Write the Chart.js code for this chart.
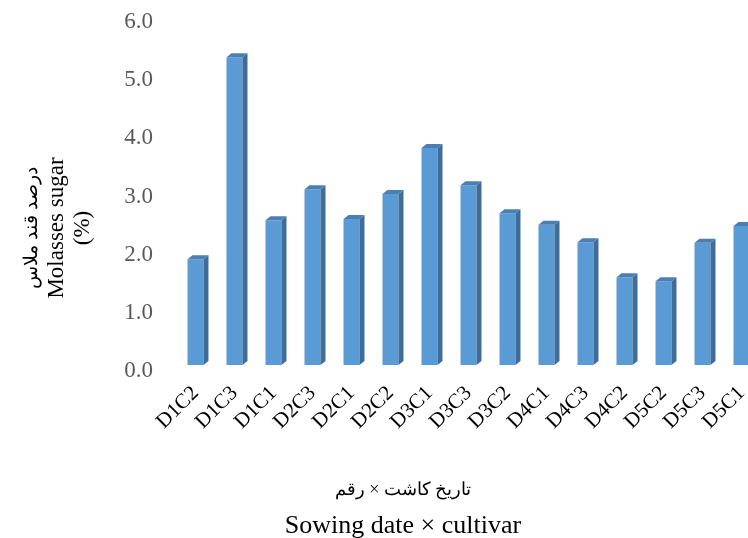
<!DOCTYPE html>
<html>
<head>
<meta charset="utf-8">
<script src="https://cdn.jsdelivr.net/npm/chart.js@4/dist/chart.umd.min.js"></script>
<style>
  html, body { margin: 0; padding: 0; background: #fff; overflow: hidden; width: 748px; height: 538px; }
  #wrap { position: relative; width: 770px; height: 538px; }
</style>
</head>
<body>
<div id="wrap"><canvas id="c" width="770" height="538"></canvas></div>
<script>
// Treatments: sowing date (D) × cultivar (C)
const categories = ['D1C2', 'D1C3', 'D1C1', 'D2C3', 'D2C1', 'D2C2', 'D3C1', 'D3C3',
                    'D3C2', 'D4C1', 'D4C3', 'D4C2', 'D5C2', 'D5C3', 'D5C1'];
// Molasses sugar (%)
const molassesSugar = [1.82, 5.29, 2.49, 3.02, 2.51, 2.94, 3.73, 3.09,
                       2.61, 2.41, 2.11, 1.51, 1.44, 2.10, 2.39];
const yTickValues = [0, 1, 2, 3, 4, 5, 6];
const yTitleLines = ['درصد قند ملاس', 'Molasses sugar', '(%)'];
const xTitleLines = ['تاریخ کاشت × رقم', 'Sowing date × cultivar'];

const SERIF = '"Liberation Serif", "Times New Roman", "DejaVu Serif", serif';

// Adds the top and right faces that give each column its 3-D look
const columnFaces = {
  id: 'columnFaces',
  afterDatasetsDraw(chart) {
    const ctx = chart.ctx;
    const dx = 5, dy = 4;
    chart.getDatasetMeta(0).data.forEach(bar => {
      const l = bar.x - bar.width / 2, r = bar.x + bar.width / 2;
      const top = bar.y, base = bar.base;
      ctx.save();
      ctx.fillStyle = '#3f6d98';
      ctx.beginPath();
      ctx.moveTo(r, top); ctx.lineTo(r + dx, top - dy);
      ctx.lineTo(r + dx, base - dy); ctx.lineTo(r, base);
      ctx.closePath(); ctx.fill();
      ctx.fillStyle = '#4a7fb6';
      ctx.beginPath();
      ctx.moveTo(l, top); ctx.lineTo(l + dx, top - dy);
      ctx.lineTo(r + dx, top - dy); ctx.lineTo(r, top);
      ctx.closePath(); ctx.fill();
      ctx.restore();
    });
  }
};

// Axis captions (Persian + English lines)
const axisCaptions = {
  id: 'axisCaptions',
  afterDraw(chart) {
    const ctx = chart.ctx;
    ctx.save();
    ctx.fillStyle = '#000';
    ctx.textAlign = 'center';
    ctx.textBaseline = 'middle';
    // vertical caption
    const yCols = [32, 57, 83];
    const ySizes = [19, 23, 23];
    yTitleLines.forEach((t, i) => {
      ctx.save();
      ctx.translate(yCols[i], 228);
      ctx.rotate(-Math.PI / 2);
      ctx.font = ySizes[i] + 'px ' + SERIF;
      ctx.direction = i === 0 ? 'rtl' : 'ltr';
      ctx.fillText(t, 0, 0);
      ctx.restore();
    });
    // horizontal caption
    const xRows = [490, 526];
    const xSizes = [18, 26];
    xTitleLines.forEach((t, i) => {
      ctx.font = xSizes[i] + 'px ' + SERIF;
      ctx.direction = i === 0 ? 'rtl' : 'ltr';
      ctx.fillText(t, 403, xRows[i]);
    });
    ctx.restore();
  }
};

new Chart(document.getElementById('c'), {
  type: 'bar',
  data: {
    labels: categories,
    datasets: [{
      data: molassesSugar,
      backgroundColor: '#5b9bd5',
      borderWidth: 0,
      barPercentage: 0.41,
      categoryPercentage: 1.0
    }]
  },
  options: {
    responsive: false,
    animation: false,
    devicePixelRatio: 1,
    layout: { padding: { top: 16, right: 9, left: 0, bottom: 0 } },
    plugins: { legend: { display: false }, tooltip: { enabled: false } },
    scales: {
      x: {
        grid: { display: false, drawTicks: false },
        border: { display: false },
        afterFit(scale) {
          scale.height = 173;
          scale.paddingLeft = 0;
          scale.paddingRight = 0;
        },
        ticks: {
          autoSkip: false,
          minRotation: 45,
          maxRotation: 45,
          padding: 16,
          color: '#000',
          font: { family: SERIF, size: 21 }
        }
      },
      y: {
        min: 0,
        max: 6,
        grid: { display: false, drawTicks: false },
        border: { display: false },
        afterFit(scale) {
          scale.width = 176;
          scale.paddingTop = 0;
          scale.paddingBottom = 0;
        },
        afterBuildTicks(scale) { scale.ticks = yTickValues.map(v => ({ value: v })); },
        ticks: {
          padding: 23,
          labelOffset: 6,
          color: '#595959',
          font: { family: SERIF, size: 23 },
          callback: v => Number(v).toFixed(1)
        }
      }
    }
  },
  plugins: [columnFaces, axisCaptions]
});
</script>
</body>
</html>
